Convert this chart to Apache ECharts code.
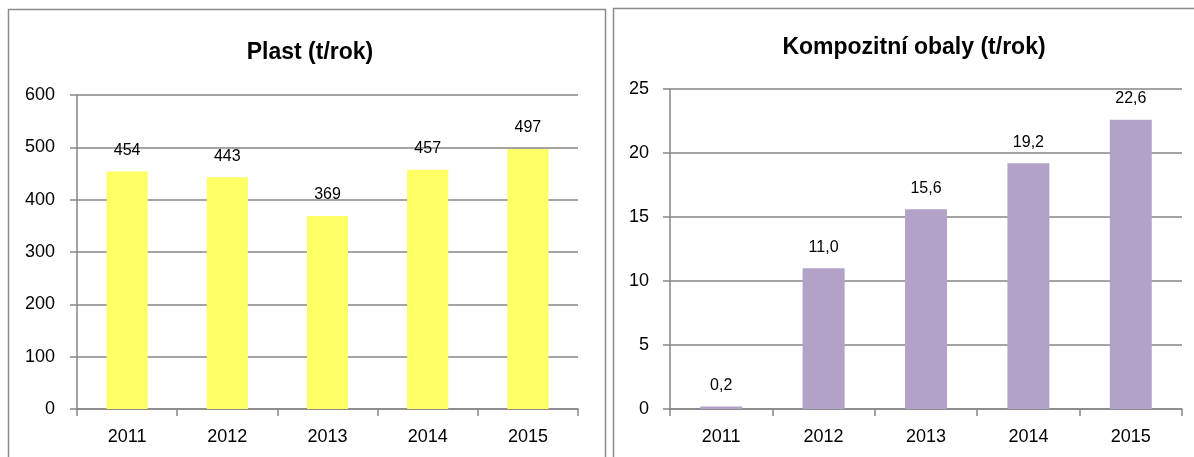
<!DOCTYPE html>
<html lang="cs">
<head>
    <meta charset="UTF-8">
    <title>Plast a kompozitní obaly</title>
    <script src="https://cdn.jsdelivr.net/npm/echarts@6/dist/echarts.min.js"></script>
    <style>
        html, body { margin: 0; padding: 0; background: #fff; }
        #main { width: 1194px; height: 457px; }
    </style>
</head>
<body>
<div id="main"></div>
<script>
    // data
    const years = ['2011', '2012', '2013', '2014', '2015'];
    const plast = [454, 443, 369, 457, 497];
    const kompozit = [0.2, 11.0, 15.6, 19.2, 22.6];

    const chart = echarts.init(document.getElementById('main'));
    const FONT = '"Liberation Sans", Arial, sans-serif';
    const gray = '#868686';

    function xAxisFor(gridIndex) {
        return {
            type: 'category',
            gridIndex: gridIndex,
            data: years,
            axisLine: { lineStyle: { color: gray, width: 1.5 } },
            axisTick: { show: true, length: 7, lineStyle: { color: gray, width: 1.5 } },
            axisLabel: { color: '#000', fontFamily: FONT, fontSize: 18, margin: 19 }
        };
    }

    function yAxisFor(gridIndex, max, interval, margin) {
        return {
            type: 'value',
            gridIndex: gridIndex,
            min: 0,
            max: max,
            interval: interval,
            axisLine: { show: true, lineStyle: { color: gray, width: 1.5 } },
            axisTick: { show: true, length: 7, lineStyle: { color: gray, width: 1.5 } },
            splitLine: { lineStyle: { color: gray, width: 1.5 } },
            axisLabel: { color: '#000', fontFamily: FONT, fontSize: 18, margin: margin }
        };
    }

    const option = {
        animation: false,
        backgroundColor: '#fff',
        graphic: [
            { type: 'rect', shape: { x: 8.5, y: 9.5, width: 597, height: 460 },
              style: { fill: 'none', stroke: '#8c8c8c', lineWidth: 1.5 } },
            { type: 'rect', shape: { x: 613.5, y: 8.5, width: 590, height: 460 },
              style: { fill: 'none', stroke: '#8c8c8c', lineWidth: 1.5 } }
        ],
        title: [
            { text: 'Plast (t/rok)', left: 305, top: 36, textAlign: 'center',
              textStyle: { fontFamily: FONT, fontSize: 23, fontWeight: 'bold', color: '#000' } },
            { text: 'Kompozitní obaly (t/rok)', left: 909, top: 31, textAlign: 'center',
              textStyle: { fontFamily: FONT, fontSize: 23, fontWeight: 'bold', color: '#000' } }
        ],
        grid: [
            { left: 77, right: 616, top: 95, bottom: 48 },
            { left: 670, right: 12, top: 89, bottom: 48 }
        ],
        xAxis: [xAxisFor(0), xAxisFor(1)],
        yAxis: [yAxisFor(0, 600, 100, 22), yAxisFor(1, 25, 5, 21)],
        series: [
            {
                name: 'Plast',
                type: 'bar',
                xAxisIndex: 0,
                yAxisIndex: 0,
                data: plast,
                barWidth: '41%',
                itemStyle: { color: '#FFFF66' },
                label: {
                    show: true, position: 'top', distance: 13,
                    color: '#000', fontFamily: FONT, fontSize: 16
                }
            },
            {
                name: 'Kompozitní obaly',
                type: 'bar',
                xAxisIndex: 1,
                yAxisIndex: 1,
                data: kompozit,
                barWidth: '41%',
                itemStyle: { color: '#B3A2C7' },
                label: {
                    show: true, position: 'top', distance: 13,
                    color: '#000', fontFamily: FONT, fontSize: 16,
                    formatter: function (p) { return p.value.toFixed(1).replace('.', ','); }
                }
            }
        ]
    };

    chart.setOption(option);
</script>
</body>
</html>
